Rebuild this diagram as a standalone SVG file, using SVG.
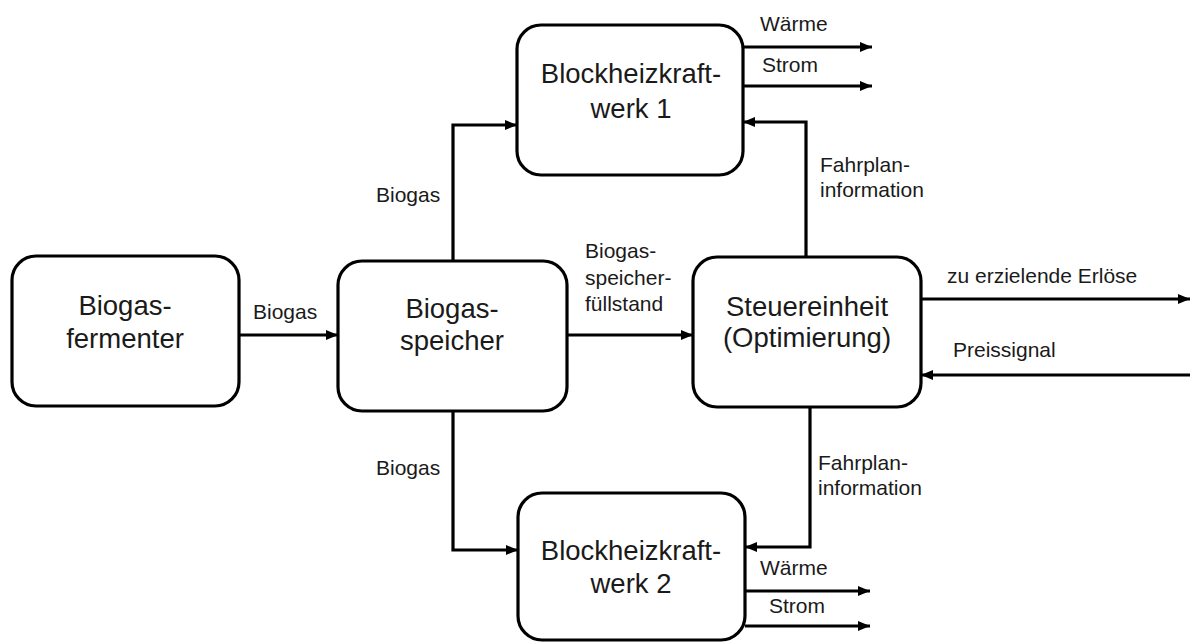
<svg xmlns="http://www.w3.org/2000/svg" width="1190" height="643" viewBox="0 0 1190 643">
  <style>
    .box { fill: #ffffff; stroke: #000000; stroke-width: 3.2; }
    .node-text { font-family: "Liberation Sans", Arial, sans-serif; font-size: 27.5px; fill: #1a1a1a; text-anchor: middle; }
    .label { font-family: "Liberation Sans", Arial, sans-serif; font-size: 21px; fill: #1a1a1a; }
    .wire { fill: none; stroke: #000000; stroke-width: 3.2; marker-end: url(#arrow); }
  </style>
  <defs>
    <marker id="arrow" markerUnits="userSpaceOnUse" markerWidth="14" markerHeight="12" refX="12" refY="6" orient="auto">
      <path d="M0,1 L12,6 L0,11 Z" fill="#000000"/>
    </marker>
  </defs>
  <rect width="1190" height="643" fill="#ffffff"/>

  <!-- connectors -->
  <g id="connectors">
    <path class="wire" d="M239,335 H338"/>
    <path class="wire" d="M453,261 V125 H517"/>
    <path class="wire" d="M453,411 V550 H518"/>
    <path class="wire" d="M567,335 H693"/>
    <path class="wire" d="M806,257 V122 H743"/>
    <path class="wire" d="M810,407 V547 H745"/>
    <path class="wire" d="M921,299 H1190"/>
    <path class="wire" d="M1190,375 H921"/>
    <path class="wire" d="M743,47 H872"/>
    <path class="wire" d="M743,86 H872"/>
    <path class="wire" d="M745,591 H870"/>
    <path class="wire" d="M745,626 H870"/>
  </g>

  <!-- connector labels -->
  <g id="labels">
    <text class="label" x="253" y="319">Biogas</text>
    <text class="label" x="376" y="202">Biogas</text>
    <text class="label" x="376" y="475">Biogas</text>
    <text class="label" x="585" y="258">Biogas-</text>
    <text class="label" x="585" y="285">speicher-</text>
    <text class="label" x="585" y="311">füllstand</text>
    <text class="label" x="820" y="172">Fahrplan-</text>
    <text class="label" x="820" y="197">information</text>
    <text class="label" x="818" y="470">Fahrplan-</text>
    <text class="label" x="818" y="495">information</text>
    <text class="label" x="947" y="283">zu erzielende Erlöse</text>
    <text class="label" x="953" y="357">Preissignal</text>
    <text class="label" x="760" y="31">Wärme</text>
    <text class="label" x="762" y="72">Strom</text>
    <text class="label" x="760" y="575">Wärme</text>
    <text class="label" x="769" y="613">Strom</text>
  </g>

  <g id="fermenter">
    <rect class="box" x="12" y="256" width="227" height="150" rx="24"/>
    <text class="node-text" x="125" y="315">Biogas-</text>
    <text class="node-text" x="125" y="348">fermenter</text>
  </g>

  <g id="speicher">
    <rect class="box" x="338" y="261" width="229" height="150" rx="24"/>
    <text class="node-text" x="452" y="318">Biogas-</text>
    <text class="node-text" x="452" y="350">speicher</text>
  </g>

  <g id="steuereinheit">
    <rect class="box" x="693" y="257" width="228" height="150" rx="24"/>
    <text class="node-text" x="807" y="316">Steuereinheit</text>
    <text class="node-text" x="807" y="347">(Optimierung)</text>
  </g>

  <g id="bhkw1">
    <rect class="box" x="517" y="25" width="226" height="150" rx="24"/>
    <text class="node-text" x="631" y="83">Blockheizkraft-</text>
    <text class="node-text" x="631" y="118">werk 1</text>
  </g>

  <g id="bhkw2">
    <rect class="box" x="518" y="493" width="227" height="147" rx="24"/>
    <text class="node-text" x="631" y="560">Blockheizkraft-</text>
    <text class="node-text" x="631" y="593">werk 2</text>
  </g>
</svg>
